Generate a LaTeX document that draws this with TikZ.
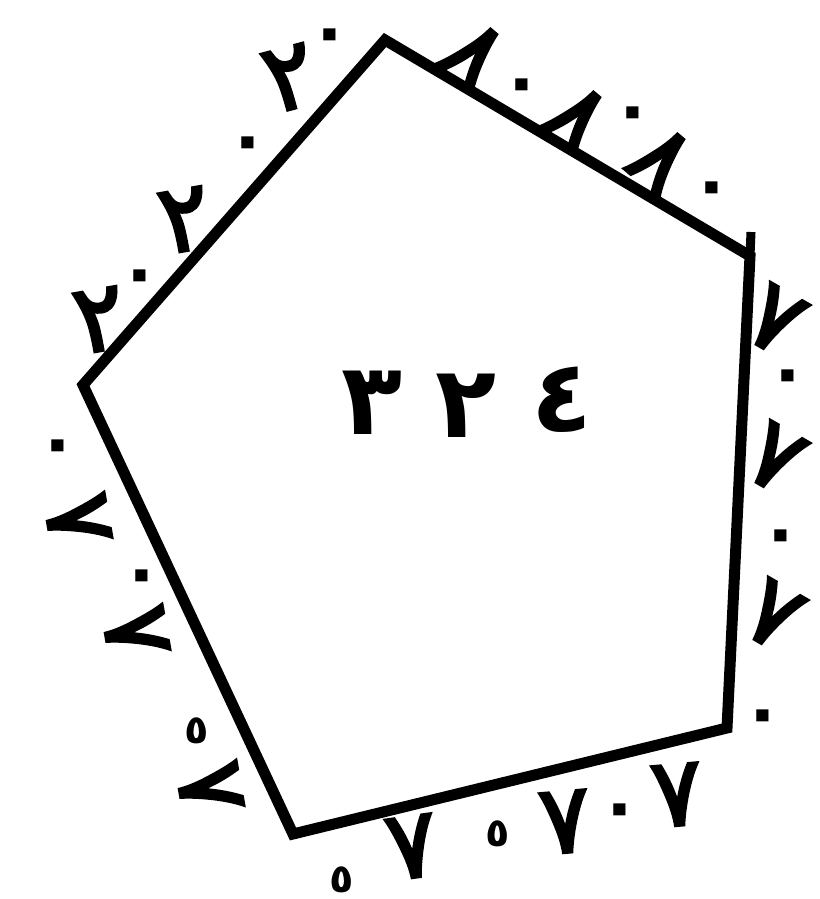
\documentclass[tikz,border=0pt]{standalone}
\usepackage{fontspec}
\newfontfamily\arabicfont[Script=Arabic]{DejaVu Sans}
\newfontfamily\arabicmid[Script=Arabic,FakeBold=3]{DejaVu Sans}
\begin{document}
\begin{tikzpicture}[x=1pt,y=-1pt,
  digit/.style={font=\arabicmid\fontsize{96}{96}\selectfont, inner sep=0pt},
  bigdigit/.style={font=\arabicfont\bfseries\fontsize{100}{100}\selectfont, inner sep=0pt},
  zero/.style={font=\arabicfont\bfseries\fontsize{70}{70}\selectfont, inner sep=0pt},
  small/.style={font=\arabicfont\bfseries\fontsize{40}{40}\selectfont, inner sep=0pt},
  edge/.style={line width=11pt}]
\useasboundingbox (0,0) rectangle (819,899);
\coordinate (T) at (385,40);
\coordinate (RT) at (750,256);
\coordinate (RTtop) at (751,232);
\coordinate (RB) at (727,728);
\coordinate (B) at (293,834);
\coordinate (L) at (83,385);
\draw[edge] (T) -- (RT) -- (RB) -- (B) -- (L) -- cycle;
\draw[line width=9pt] (RT) -- (RTtop);
% edge 1
\node[digit, rotate=10] (a1) at (100,320) {٢};
\node[zero] (a2) at (140,283) {٠};
\node[digit, rotate=10] (a3) at (185,220) {٢};
\node[zero] (a4) at (248,150) {٠};
\node[digit, rotate=15] (a5) at (290,78) {٢};
\node[zero] (a6) at (330,42) {٠};
% edge 2
\node[digit, rotate=-40] (b1) at (474,55) {٨};
\node[zero] (b2) at (522,92) {٠};
\node[digit, rotate=-40] (b3) at (577,118) {٨};
\node[zero] (b4) at (633,120) {٠};
\node[digit, rotate=-40] (b5) at (661,160) {٨};
\node[zero] (b6) at (712,195) {٠};
% edge 3
\node[digit, rotate=-30] (c1) at (775,320) {٧};
\node[zero] (c2) at (788,383) {٠};
\node[digit, rotate=-30] (c3) at (775,458) {٧};
\node[zero] (c4) at (781,543) {٠};
\node[digit, rotate=-30] (c5) at (773,615) {٧};
\node[zero] (c6) at (763,723) {٠};
% edge 4
\node[digit, rotate=5] (d1) at (677,795) {٧};
\node[zero] (d2) at (620,817) {٠};
\node[digit, rotate=5] (d3) at (565,822) {٧};
\node[small] (d4) at (498,834) {٥};
\node[digit, rotate=8] (d5) at (412,847) {٧};
\node[small] (d6) at (342,880) {٥};
% edge 5
\node[zero] (e1) at (58,453) {٠};
\node[digit, rotate=-80] (e2) at (78,520) {٧};
\node[zero] (e3) at (142,583) {٠};
\node[digit, rotate=-80] (e4) at (136,632) {٧};
\node[small] (e5) at (197,731) {٥};
\node[digit, rotate=-80] (e6) at (210,788) {٧};
% centre
\node[bigdigit] (n1) at (372,403) {٣};
\node[bigdigit] (n2) at (466,406) {٢};
\node[bigdigit] (n3) at (562,400) {٤};
\end{tikzpicture}
\end{document}
